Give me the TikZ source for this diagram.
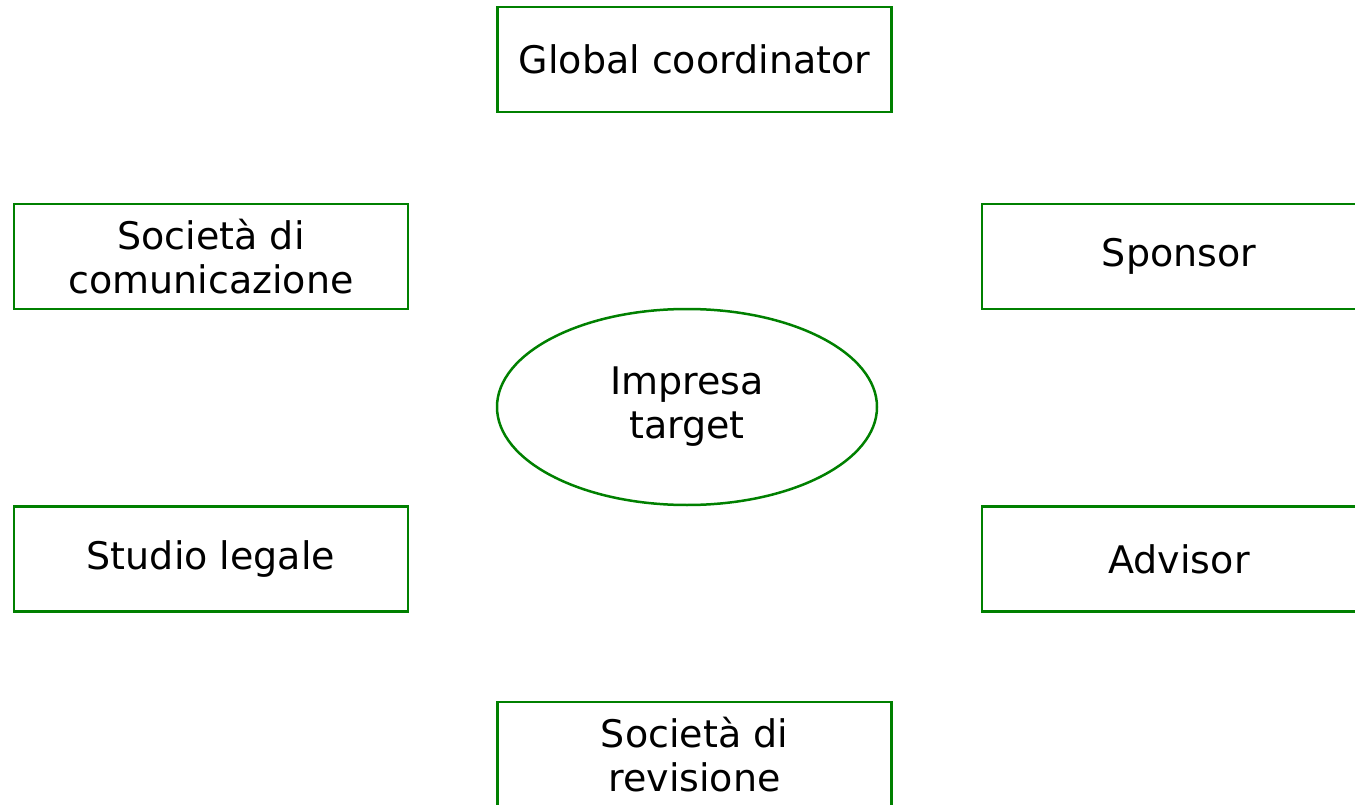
\documentclass[tikz,border=0pt]{standalone}
\usepackage{fontspec}
\setmainfont{DejaVu Sans}
\usetikzlibrary{shapes.geometric}
\definecolor{boxgreen}{RGB}{0,128,0}
\begin{document}
\begin{tikzpicture}[x=1pt, y=-1pt,
	actor/.style={draw=boxgreen, line width=2.5pt, rectangle, minimum width=394pt, minimum height=105pt, inner sep=0pt, align=center, font=\fontsize{38}{44}\selectfont},
	target/.style={draw=boxgreen, line width=2.5pt, ellipse, minimum width=380pt, minimum height=196pt, inner sep=0pt, align=center, font=\fontsize{38}{44}\selectfont}]
	\clip (0,0) rectangle (1355,805);
	\node[actor] (glob) at (694.5,59.5) {Global coordinator};
	\node[actor] (comm) at (211,256.5) {Società di\\comunicazione};
	\node[actor] (spon) at (1179,256.5) {Sponsor};
	\node[target] (imp) at (687,407) {Impresa\\target};
	\node[actor] (legal) at (211,559) {Studio legale};
	\node[actor] (adv) at (1179,559) {Advisor};
	\node[actor] (rev) at (694.5,754.5) {Società di\\revisione};
\end{tikzpicture}
\end{document}
